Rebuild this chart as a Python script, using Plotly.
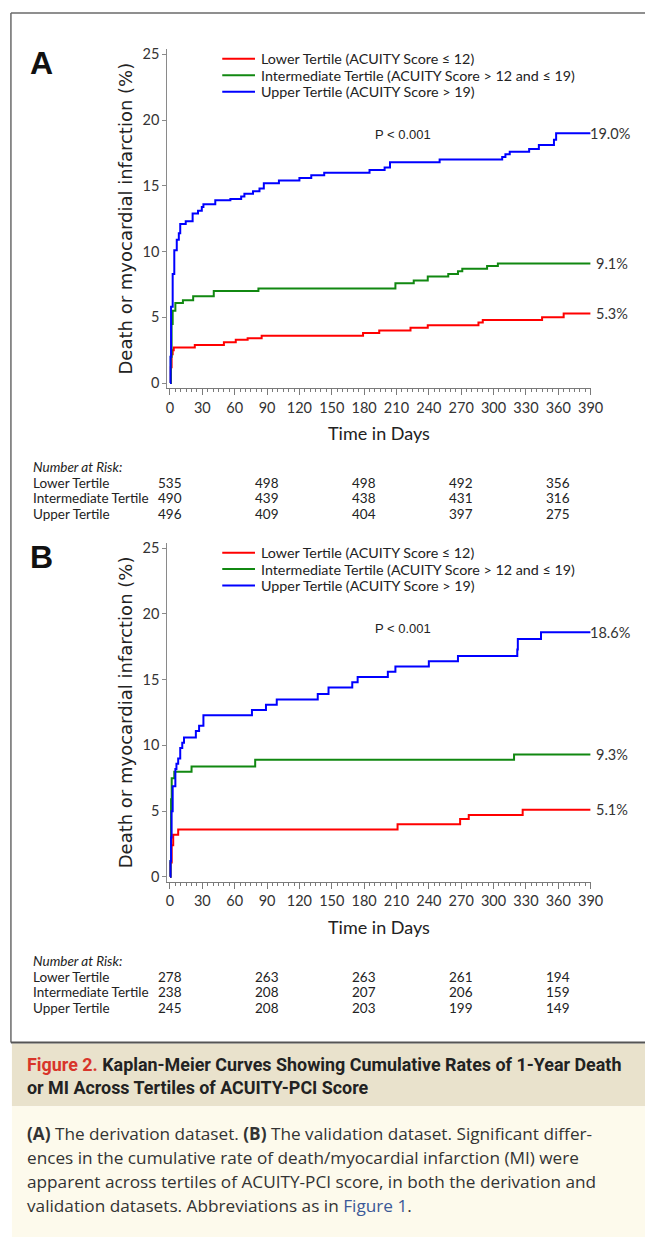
import plotly.graph_objects as go

# ---------------- data ----------------
series_names = ["Lower Tertile (ACUITY Score \u2264 12)",
                "Intermediate Tertile (ACUITY Score > 12 and \u2264 19)",
                "Upper Tertile (ACUITY Score > 19)"]
series_colors = ["#ff0000", "#118811", "#0000ff"]
risk_row_labels = ["Lower Tertile", "Intermediate Tertile", "Upper Tertile"]
x_ticks = list(range(0, 391, 30))
y_ticks = [0, 5, 10, 15, 20, 25]
risk_days = [0, 90, 180, 270, 360]

# Panel A (derivation)
a_lower_t = [0, 0.8, 1.5, 2.5, 3.5, 23, 50, 61, 72, 85, 179, 194, 223, 239, 286, 290, 345, 365, 390]
a_lower_v = [0, 1.2, 2.2, 2.5, 2.7, 2.9, 3.1, 3.3, 3.4, 3.6, 3.8, 4.0, 4.2, 4.4, 4.6, 4.8, 5.0, 5.3, 5.3]
a_inter_t = [0, 0.8, 1.5, 2.5, 5, 12, 21.5, 40.6, 82, 209, 226, 239, 258, 267, 271, 294, 304, 390]
a_inter_v = [0, 2.0, 4.5, 5.5, 6.1, 6.3, 6.6, 7.0, 7.2, 7.6, 7.8, 8.1, 8.3, 8.5, 8.7, 8.9, 9.1, 9.1]
a_upper_t = [0, 0.5, 1, 2.5, 4, 6.3, 8.2, 9.5, 14.6, 21, 26, 29.5, 31, 42, 56, 66, 69, 77, 83, 87,
             101, 120, 131, 143, 185, 199, 204, 250, 308, 311, 315, 333, 342, 356, 358, 390]
a_upper_v = [0, 2.0, 5.8, 8.3, 10.1, 10.9, 11.4, 12.1, 12.3, 12.9, 13.1, 13.4, 13.6, 13.9, 14.0, 14.2, 14.4, 14.6, 14.8, 15.2,
             15.4, 15.6, 15.8, 16.0, 16.2, 16.4, 16.8, 17.0, 17.2, 17.4, 17.6, 17.8, 18.1, 18.5, 19.0, 19.0]
a_end_labels = ["5.3%", "9.1%", "19.0%"]
a_risk = [[535, 498, 498, 492, 356],
          [490, 439, 438, 431, 316],
          [496, 409, 404, 397, 275]]

# Panel B (validation)
b_lower_t = [0, 0.5, 1.6, 3, 7.6, 211, 269, 277, 327, 390]
b_lower_v = [0, 1.1, 2.4, 3.2, 3.6, 4.0, 4.4, 4.7, 5.1, 5.1]
b_inter_t = [0, 0.5, 1, 1.6, 4, 20, 79, 319, 390]
b_inter_v = [0, 1.2, 5.9, 7.5, 8.0, 8.4, 8.9, 9.3, 9.3]
b_upper_t = [0, 0.5, 1, 1.5, 2.5, 5, 6, 7.6, 9.5, 11.4, 13, 24, 27, 31, 76, 89, 99, 137, 147, 169, 174,
             202, 209, 240, 267, 322, 322.5, 344, 390]
b_upper_v = [0, 1.2, 3.0, 5.0, 6.9, 8.2, 8.6, 9.0, 9.8, 10.2, 10.6, 11.1, 11.5, 12.3, 12.7, 13.1, 13.5, 13.9, 14.4, 14.8, 15.2,
             15.6, 16.0, 16.4, 16.8, 17.3, 18.1, 18.6, 18.6]
b_end_labels = ["5.1%", "9.3%", "18.6%"]
b_risk = [[278, 263, 263, 261, 194],
          [238, 208, 207, 206, 159],
          [245, 208, 203, 199, 149]]

# ---------------- layout helpers (picture pixels -> paper fractions) ----------------
W, H = 645, 1237
EW, EH = 635.0, 1234.0   # width/height of the figure as it lands in the photographed picture
def px(x):
    return x / EW
def py(y):
    return 1 - y / EH

TICK_FONT = "Lato, Carlito, sans-serif"
fig = go.Figure()

panels = [
    dict(xa="x", ya="y", off=0, letter="A",
         data=[(a_lower_t, a_lower_v), (a_inter_t, a_inter_v), (a_upper_t, a_upper_v)],
         ends=a_end_labels, risk=a_risk),
    dict(xa="x2", ya="y2", off=495, letter="B",
         data=[(b_lower_t, b_lower_v), (b_inter_t, b_inter_v), (b_upper_t, b_upper_v)],
         ends=b_end_labels, risk=b_risk),
]

annotations = []
shapes = []

# outer frame (top and left edges; the right edge lies outside the picture)
shapes.append(dict(type="line", xref="paper", yref="paper", x0=px(9), x1=px(700), y0=py(10), y1=py(10),
                   line=dict(color="#6a6a6a", width=1.5)))
shapes.append(dict(type="line", xref="paper", yref="paper", x0=px(9), x1=px(9), y0=py(10), y1=py(1042),
                   line=dict(color="#6a6a6a", width=1.5)))

for p in panels:
    off = p["off"]
    for (t, v), name, col in zip(p["data"], series_names, series_colors):
        fig.add_trace(go.Scatter(x=t, y=v, mode="lines", line=dict(color=col, width=2, shape="hv"),
                                 name=name, showlegend=False, xaxis=p["xa"], yaxis=p["ya"], hoverinfo="skip"))
    # end labels
    for (t, v), lab in zip(p["data"], p["ends"]):
        annotations.append(dict(xref=p["xa"], yref=p["ya"], x=t[-1], y=v[-1], text=lab, showarrow=False,
                                xanchor="left", yanchor="middle", xshift=(-3 if len(lab) > 4 else 3),
                                font=dict(family=TICK_FONT, size=14.5, color="#333333")))
    # legend (manual)
    for i, (name, col) in enumerate(zip(series_names, series_colors)):
        yy = 56 + off + i * 16.5
        shapes.append(dict(type="line", xref="paper", yref="paper", x0=px(222), x1=px(255), y0=py(yy), y1=py(yy),
                           line=dict(color=col, width=2)))
        annotations.append(dict(xref="paper", yref="paper", x=px(259), y=py(yy), text=name, showarrow=False,
                                xanchor="left", yanchor="middle",
                                font=dict(family=TICK_FONT, size=14.3, color="#222222")))
    # P value
    annotations.append(dict(xref="paper", yref="paper", x=px(404), y=py(132 + off), text="P &lt; 0.001",
                            showarrow=False, xanchor="center", yanchor="middle",
                            font=dict(family="Liberation Sans, Arial, sans-serif", size=13, color="#222222")))
    # panel letter
    annotations.append(dict(xref="paper", yref="paper", x=px(26), y=py(60 + off), text="<b>%s</b>" % p["letter"],
                            showarrow=False, xanchor="left", yanchor="middle",
                            font=dict(family="Liberation Sans, Arial, sans-serif", size=32, color="#111111")))
    # y title
    annotations.append(dict(xref="paper", yref="paper", x=px(124), y=py(216 + off),
                            text="Death or myocardial infarction (%)", textangle=-90, showarrow=False,
                            xanchor="center", yanchor="middle",
                            font=dict(family="DejaVu Sans, sans-serif", size=18, color="#222222")))
    # x title
    annotations.append(dict(xref="paper", yref="paper", x=px(380), y=py(431 + off), text="Time in Days",
                            showarrow=False, xanchor="center", yanchor="middle",
                            font=dict(family=TICK_FONT, size=18, color="#222222")))
    # number at risk
    annotations.append(dict(xref="paper", yref="paper", x=px(29), y=py(465 + off), text="<i>Number at Risk:</i>",
                            showarrow=False, xanchor="left", yanchor="middle",
                            font=dict(family=TICK_FONT, size=13.5, color="#222222")))
    for r, (lab, vals) in enumerate(zip(risk_row_labels, p["risk"])):
        yy = 481 + off + r * 15.5
        annotations.append(dict(xref="paper", yref="paper", x=px(29), y=py(yy), text=lab, showarrow=False,
                                xanchor="left", yanchor="middle",
                                font=dict(family=TICK_FONT, size=13.5, color="#222222")))
        for d, val in zip(risk_days, vals):
            annotations.append(dict(xref=p["xa"], yref="paper", x=d, y=py(yy), text=str(val), showarrow=False,
                                    xanchor="center", yanchor="middle",
                                    font=dict(family=TICK_FONT, size=13.5, color="#222222")))

# caption
shapes.append(dict(type="rect", xref="paper", yref="paper", x0=px(10), x1=px(700), y0=py(1106), y1=py(1043),
                   line=dict(width=0), fillcolor="#e9e2cc", layer="below"))
shapes.append(dict(type="rect", xref="paper", yref="paper", x0=px(10), x1=px(700), y0=py(1260), y1=py(1106),
                   line=dict(width=0), fillcolor="#fdfaec", layer="below"))
shapes.append(dict(type="line", xref="paper", yref="paper", x0=px(9), x1=px(700), y0=py(1042), y1=py(1042),
                   line=dict(color="#555555", width=2)))

CAP_FONT = "Roboto, Liberation Sans, sans-serif"
BODY_FONT = "Open Sans, Roboto, sans-serif"
annotations.append(dict(xref="paper", yref="paper", x=px(23), y=py(1064), showarrow=False, xanchor="left",
                        yanchor="middle",
                        text="<b><span style='color:#d8352a'>Figure 2.</span> Kaplan-Meier Curves Showing Cumulative Rates of 1-Year Death</b>",
                        font=dict(family=CAP_FONT, size=17.9, color="#222222")))
annotations.append(dict(xref="paper", yref="paper", x=px(23), y=py(1087), showarrow=False, xanchor="left",
                        yanchor="middle", text="<b>or MI Across Tertiles of ACUITY-PCI Score</b>",
                        font=dict(family=CAP_FONT, size=17.9, color="#222222")))
body_lines = [
    "<b>(A)</b> The derivation dataset. <b>(B)</b> The validation dataset. Significant differ-",
    "ences in the cumulative rate of death/myocardial infarction (MI) were",
    "apparent across tertiles of ACUITY-PCI score, in both the derivation and",
    "validation datasets. Abbreviations as in <span style='color:#3b5998'>Figure 1</span>.",
]
for i, line in enumerate(body_lines):
    annotations.append(dict(xref="paper", yref="paper", x=px(23), y=py(1133 + i * 24.3), showarrow=False,
                            xanchor="left", yanchor="middle", text=line,
                            font=dict(family=BODY_FONT, size=17.2, color="#333333")))

axis_common_x = dict(range=[-2.4, 390], tickvals=x_ticks, showline=True, linecolor="#7a7a7a", linewidth=1.2,
                     ticks="outside", ticklen=6, tickcolor="#7a7a7a", tickwidth=1, showgrid=False, zeroline=False,
                     tickfont=dict(family=TICK_FONT, size=14.5, color="#333333"),
                     minor=dict(dtick=5, tick0=0, ticks="outside", ticklen=3, tickcolor="#7a7a7a", tickwidth=1,
                                showgrid=False))
axis_common_y = dict(range=[-0.38, 25.42], tickvals=y_ticks, showline=True, linecolor="#8a8a8a", linewidth=1.2,
                     ticks="outside", ticklen=4, tickcolor="#8a8a8a", showgrid=False, zeroline=False,
                     tickfont=dict(family=TICK_FONT, size=14.5, color="#333333"))

xdom = [px(166.7), px(593.3)]
fig.update_layout(
    width=W, height=H, autosize=False, margin=dict(l=0, r=0, t=0, b=0, pad=0),
    paper_bgcolor="white", plot_bgcolor="rgba(0,0,0,0)", showlegend=False,
    xaxis=dict(domain=xdom, anchor="y", **axis_common_x),
    yaxis=dict(domain=[py(386), py(46)], anchor="x", **axis_common_y),
    xaxis2=dict(domain=xdom, anchor="y2", **axis_common_x),
    yaxis2=dict(domain=[py(386 + 495), py(46 + 495)], anchor="x2", **axis_common_y),
    annotations=annotations, shapes=shapes,
)

fig.write_html("out.html", config={"displayModeBar": False, "responsive": False},
               post_script="document.body.style.margin='0';document.body.style.overflow='hidden';")
